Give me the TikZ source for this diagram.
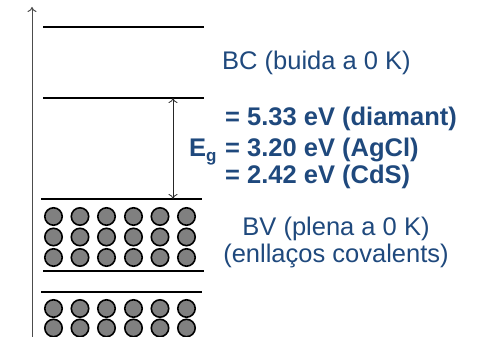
\documentclass[tikz,border=0pt]{standalone}
\usepackage{fontspec}
\setmainfont{Liberation Sans}
\usetikzlibrary{arrows.meta}
\definecolor{txtblue}{HTML}{1F497D}
\begin{document}
\begin{tikzpicture}[
   x=1pt,y=-1pt,
   level/.style={black,line width=1.5pt},
   elec/.style={circle,draw=black,fill=black!50,line width=1.6pt,minimum size=17.4pt,inner sep=0pt},
   lbl/.style={txtblue,font=\fontsize{25.5}{29}\selectfont,inner sep=0pt},
   val/.style={txtblue,font=\fontsize{25.5}{29}\selectfont\bfseries,inner sep=0pt,anchor=base west}
 ]
  \useasboundingbox (0,0) rectangle (480,337);
  % eix d'energia
  \coordinate (axb) at (32,337);
  \coordinate (axt) at (32,7);
  \draw[black!70,line width=1pt,-{To[length=5pt,width=9pt]}] (axb)--(axt);

  % nivells
  \draw[level] (43,27)--(204,27);
  \draw[level] (43,98)--(204,98);
  \draw[level] (41,199)--(202,199);
  \draw[level] (43,271)--(204,271);
  \draw[level] (41,292)--(202,292);

  % electrons
  \foreach \x in {53.5,80,106.5,133.5,160,186.5} {
    \foreach \y in {216.5,237,257.5,308.5,328}
      \node[elec] at (\x,\y) {};
  }

  % gap
  \coordinate (gt) at (173,98);
  \coordinate (gb) at (173,199);
  \draw[black!85,line width=0.8pt,{To[length=5pt,width=9pt]}-{To[length=5pt,width=9pt]}] (gb)--(gt);

  % textos
  \node[lbl,anchor=base west] (bc) at (222,70) {BC (buida a 0 K)};
  \node[val] (e1) at (225,125) {= 5.33 eV (diamant)};
  \node[val] (e2) at (225,157) {= 3.20 eV (AgCl)};
  \node[val] (e3) at (225,183) {= 2.42 eV (CdS)};
  \node[val] (eg) at (189,157) {E\raisebox{-5pt}{\fontsize{17}{17}\selectfont g}};
  \node[lbl,anchor=base] (bv) at (336,235) {BV (plena a 0 K)};
  \node[lbl,anchor=base] (enl) at (336,262) {(enllaços covalents)};
\end{tikzpicture}
\end{document}
